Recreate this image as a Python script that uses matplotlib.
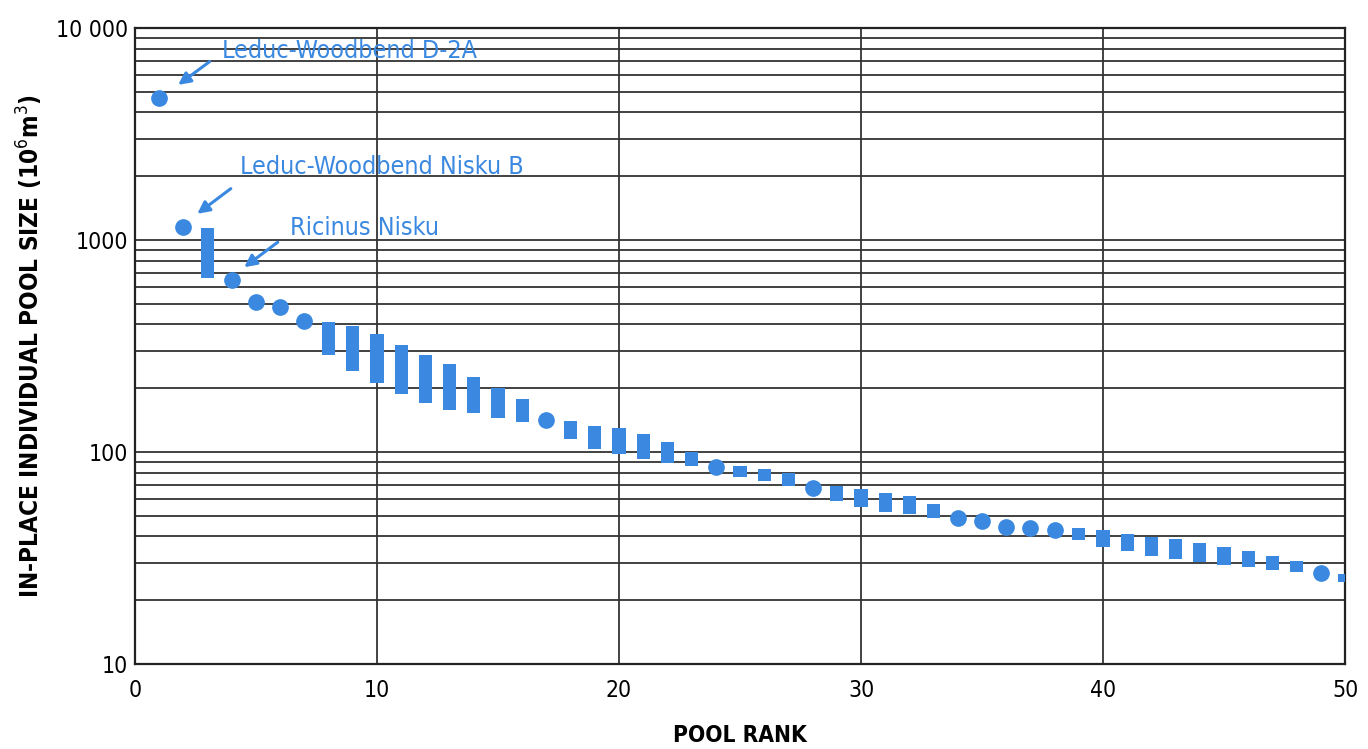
import numpy as np
import matplotlib
matplotlib.use('Agg')
import matplotlib.pyplot as plt
from matplotlib.ticker import MultipleLocator, LogLocator, NullFormatter

# data: single pools (dots) and pool groups (ranges)
circle_rank = [1, 2, 4, 5, 6, 7, 17, 24, 28, 34, 35, 36, 37, 38, 49]
circle_size = [4700, 1150, 650, 510, 483, 415, 142, 85, 68, 49, 47.5, 44.2, 43.9, 43.1, 27]

bar_rank = [3, 8, 9, 10, 11, 12, 13, 14, 15, 16, 18, 19, 20, 21, 22, 23, 25, 26, 27,
            29, 30, 31, 32, 33, 39, 40, 41, 42, 43, 44, 45, 46, 47, 48, 50]
bar_high = [1140, 410, 395, 361, 320, 287, 261, 226, 200, 177, 140, 133, 130, 122, 111, 100, 86, 83, 80,
            69, 67, 64, 62, 57, 43.6, 42.8, 41.1, 39.7, 38.7, 37.1, 35.7, 34, 32.2, 30.6, 26.5]
bar_low = [660, 288, 241, 212, 188, 171, 158, 152, 144, 138, 115, 103, 98, 93, 89, 86, 76, 73, 69,
           59, 55, 52, 51, 49, 38.3, 35.7, 34, 32.3, 31.4, 30.3, 29.3, 28.6, 27.7, 27.1, 24.3]

ytick_vals = [10, 100, 1000, 10000]
ytick_text = ['10', '100', '1000', '10 000']
xtick_vals = [0, 10, 20, 30, 40, 50]

label_names = ['Leduc-Woodbend D-2A', 'Leduc-Woodbend Nisku B', 'Ricinus Nisku']

plt.rcParams['font.family'] = ['DejaVu Sans']
plt.rcParams['font.stretch'] = 'condensed'

blue = '#3a88e0'
gridc = '#333333'

fig = plt.figure(figsize=(13.68, 7.49), dpi=100)
ax = fig.add_axes([0.0987, 0.1135, 0.8845, 0.849])

ax.set_yscale('log')
ax.set_xlim(0, 50)
ax.set_ylim(10, 10000)

ax.yaxis.set_major_locator(LogLocator(base=10))
ax.yaxis.set_minor_locator(LogLocator(base=10, subs=np.arange(2, 10)))
ax.yaxis.set_minor_formatter(NullFormatter())
ax.xaxis.set_major_locator(MultipleLocator(10))
ax.grid(axis='y', which='both', color=gridc, lw=1.3, zorder=0)
ax.grid(axis='x', which='major', color='#222222', lw=1.2, zorder=0)

ax.set_yticks(ytick_vals)
ax.set_yticklabels(ytick_text)
ax.set_xticks(xtick_vals)
ax.tick_params(which='both', length=0, labelsize=16.5)
ax.tick_params(axis='y', pad=5)
ax.tick_params(axis='x', pad=11)
for sp in ax.spines.values():
    sp.set_linewidth(1.6)
    sp.set_color('#222222')

ax.bar(bar_rank, np.array(bar_high) - np.array(bar_low), bottom=bar_low,
       width=0.55, color=blue, zorder=3)
ax.plot(circle_rank, circle_size, 'o', ms=11, color=blue, zorder=3)

arrow_kw = dict(arrowstyle='-|>', color=blue, lw=2.2, mutation_scale=18)
ax.annotate('', xy=(1.69, 5300), xytext=(3.18, 7080), arrowprops=arrow_kw)
ax.annotate('', xy=(2.48, 1306), xytext=(4.05, 1780), arrowprops=arrow_kw)
ax.annotate('', xy=(4.42, 731), xytext=(5.99, 995), arrowprops=arrow_kw)
ax.text(3.6, 7790, label_names[0], color=blue, fontsize=18, va='center', ha='left')
ax.text(4.34, 2213, label_names[1], color=blue, fontsize=18, va='center', ha='left')
ax.text(6.4, 1136, label_names[2], color=blue, fontsize=18, va='center', ha='left')

ax.set_xlabel('POOL RANK', fontsize=16.3, fontweight='bold')
ax.xaxis.set_label_coords(0.5, -0.094)
ax.set_ylabel(r'IN-PLACE INDIVIDUAL POOL SIZE (10$^6$m$^3$)', fontsize=17.5, fontweight='bold')
ax.yaxis.set_label_coords(-0.074, 0.5)

fig.savefig('out.png', dpi=100)
